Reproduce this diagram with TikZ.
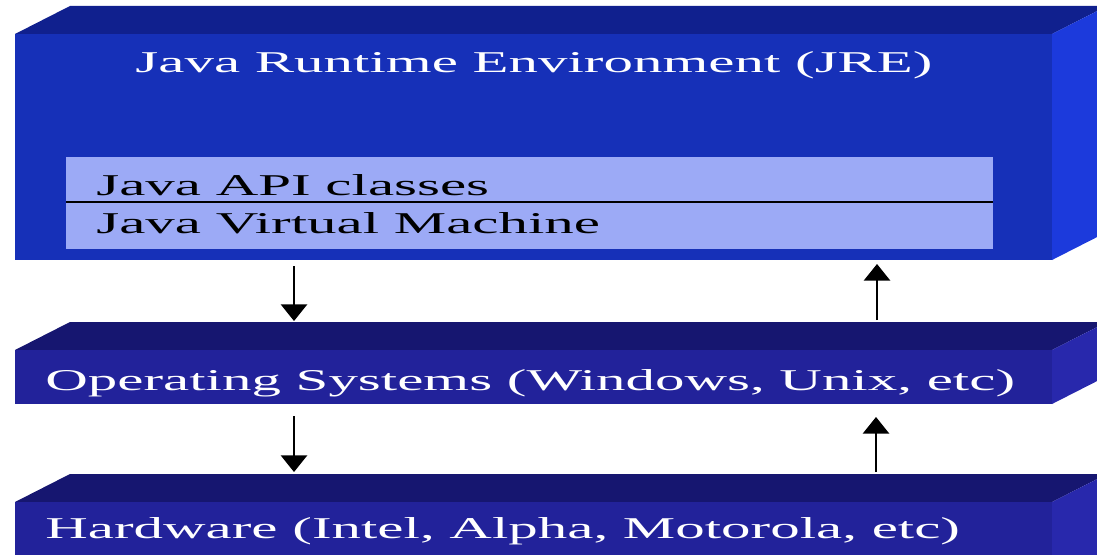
\documentclass[tikz,border=0pt]{standalone}
\usepackage{fontspec}
\newfontfamily\widefont[FakeStretch=1.95]{Liberation Serif}
\usetikzlibrary{arrows.meta}

\begin{document}
\begin{tikzpicture}[x=0.02cm, y=-0.02cm,
		layertext/.style={font=\widefont\fontsize{17.2}{20}\selectfont, inner sep=0pt},
		layerfront/.style={fill={rgb,255:red,34; green,34; blue,154}},
		layertop/.style={fill={rgb,255:red,22; green,22; blue,112}},
		layerside/.style={fill={rgb,255:red,40; green,40; blue,172}},
		flow/.style={line width=1.1pt, -{Triangle[width=15pt,length=9.5pt]}}]
			\useasboundingbox (0,0) rectangle (1097,554);
			\clip (0,0) rectangle (1097,554);
			% JRE block
			\fill [ fill={rgb,255:red,16; green,32; blue,142} ] (15,34) -- (70,6) -- (1107,6) -- (1052,34) -- cycle;
			\fill [ fill={rgb,255:red,28; green,58; blue,220} ] (1052,34) -- (1107,6) -- (1107,232) -- (1052,260) -- cycle;
			\fill [ fill={rgb,255:red,22; green,48; blue,184} ] (15,34) rectangle (1052,260);
			\fill [ fill={rgb,255:red,156; green,170; blue,246} ] (66,157) rectangle (993,249);
			\draw [ line width=0.6pt ] (66,202) -- (993,202);
			\node [layertext, white, anchor=base] (jre) at (534,72) {Java Runtime Environment (JRE)};
			\node [layertext, anchor=base west] (api) at (96,195) {Java API classes};
			\node [layertext, anchor=base west] (jvm) at (96,233) {Java Virtual Machine};
			% OS block
			\fill [layertop] (15,350) -- (70,322) -- (1107,322) -- (1052,350) -- cycle;
			\fill [layerside] (1052,350) -- (1107,322) -- (1107,376) -- (1052,404) -- cycle;
			\fill [layerfront] (15,350) rectangle (1052,404);
			\node [layertext, white, anchor=base west] (os) at (45,390) {Operating Systems (Windows, Unix, etc)};
			% hardware block
			\fill [layertop] (15,502) -- (70,474) -- (1107,474) -- (1052,502) -- cycle;
			\fill [layerside] (1052,502) -- (1107,474) -- (1107,560) -- (1052,580) -- cycle;
			\fill [layerfront] (15,502) rectangle (1052,580);
			\node [layertext, white, anchor=base west] (hw) at (45,538) {Hardware (Intel, Alpha, Motorola, etc)};
			% arrows
			\coordinate (jreDown) at (294,266);
			\coordinate (osIn) at (294,321);
			\coordinate (osDown) at (294,416);
			\coordinate (hwIn) at (294,472);
			\coordinate (osUp) at (877,320);
			\coordinate (jreIn) at (877,264);
			\coordinate (hwUp) at (876,472);
			\coordinate (osBack) at (876,417);
			\draw [flow] (jreDown) -- (osIn);
			\draw [flow] (osDown) -- (hwIn);
			\draw [flow] (osUp) -- (jreIn);
			\draw [flow] (hwUp) -- (osBack);
		\end{tikzpicture}
\end{document}
